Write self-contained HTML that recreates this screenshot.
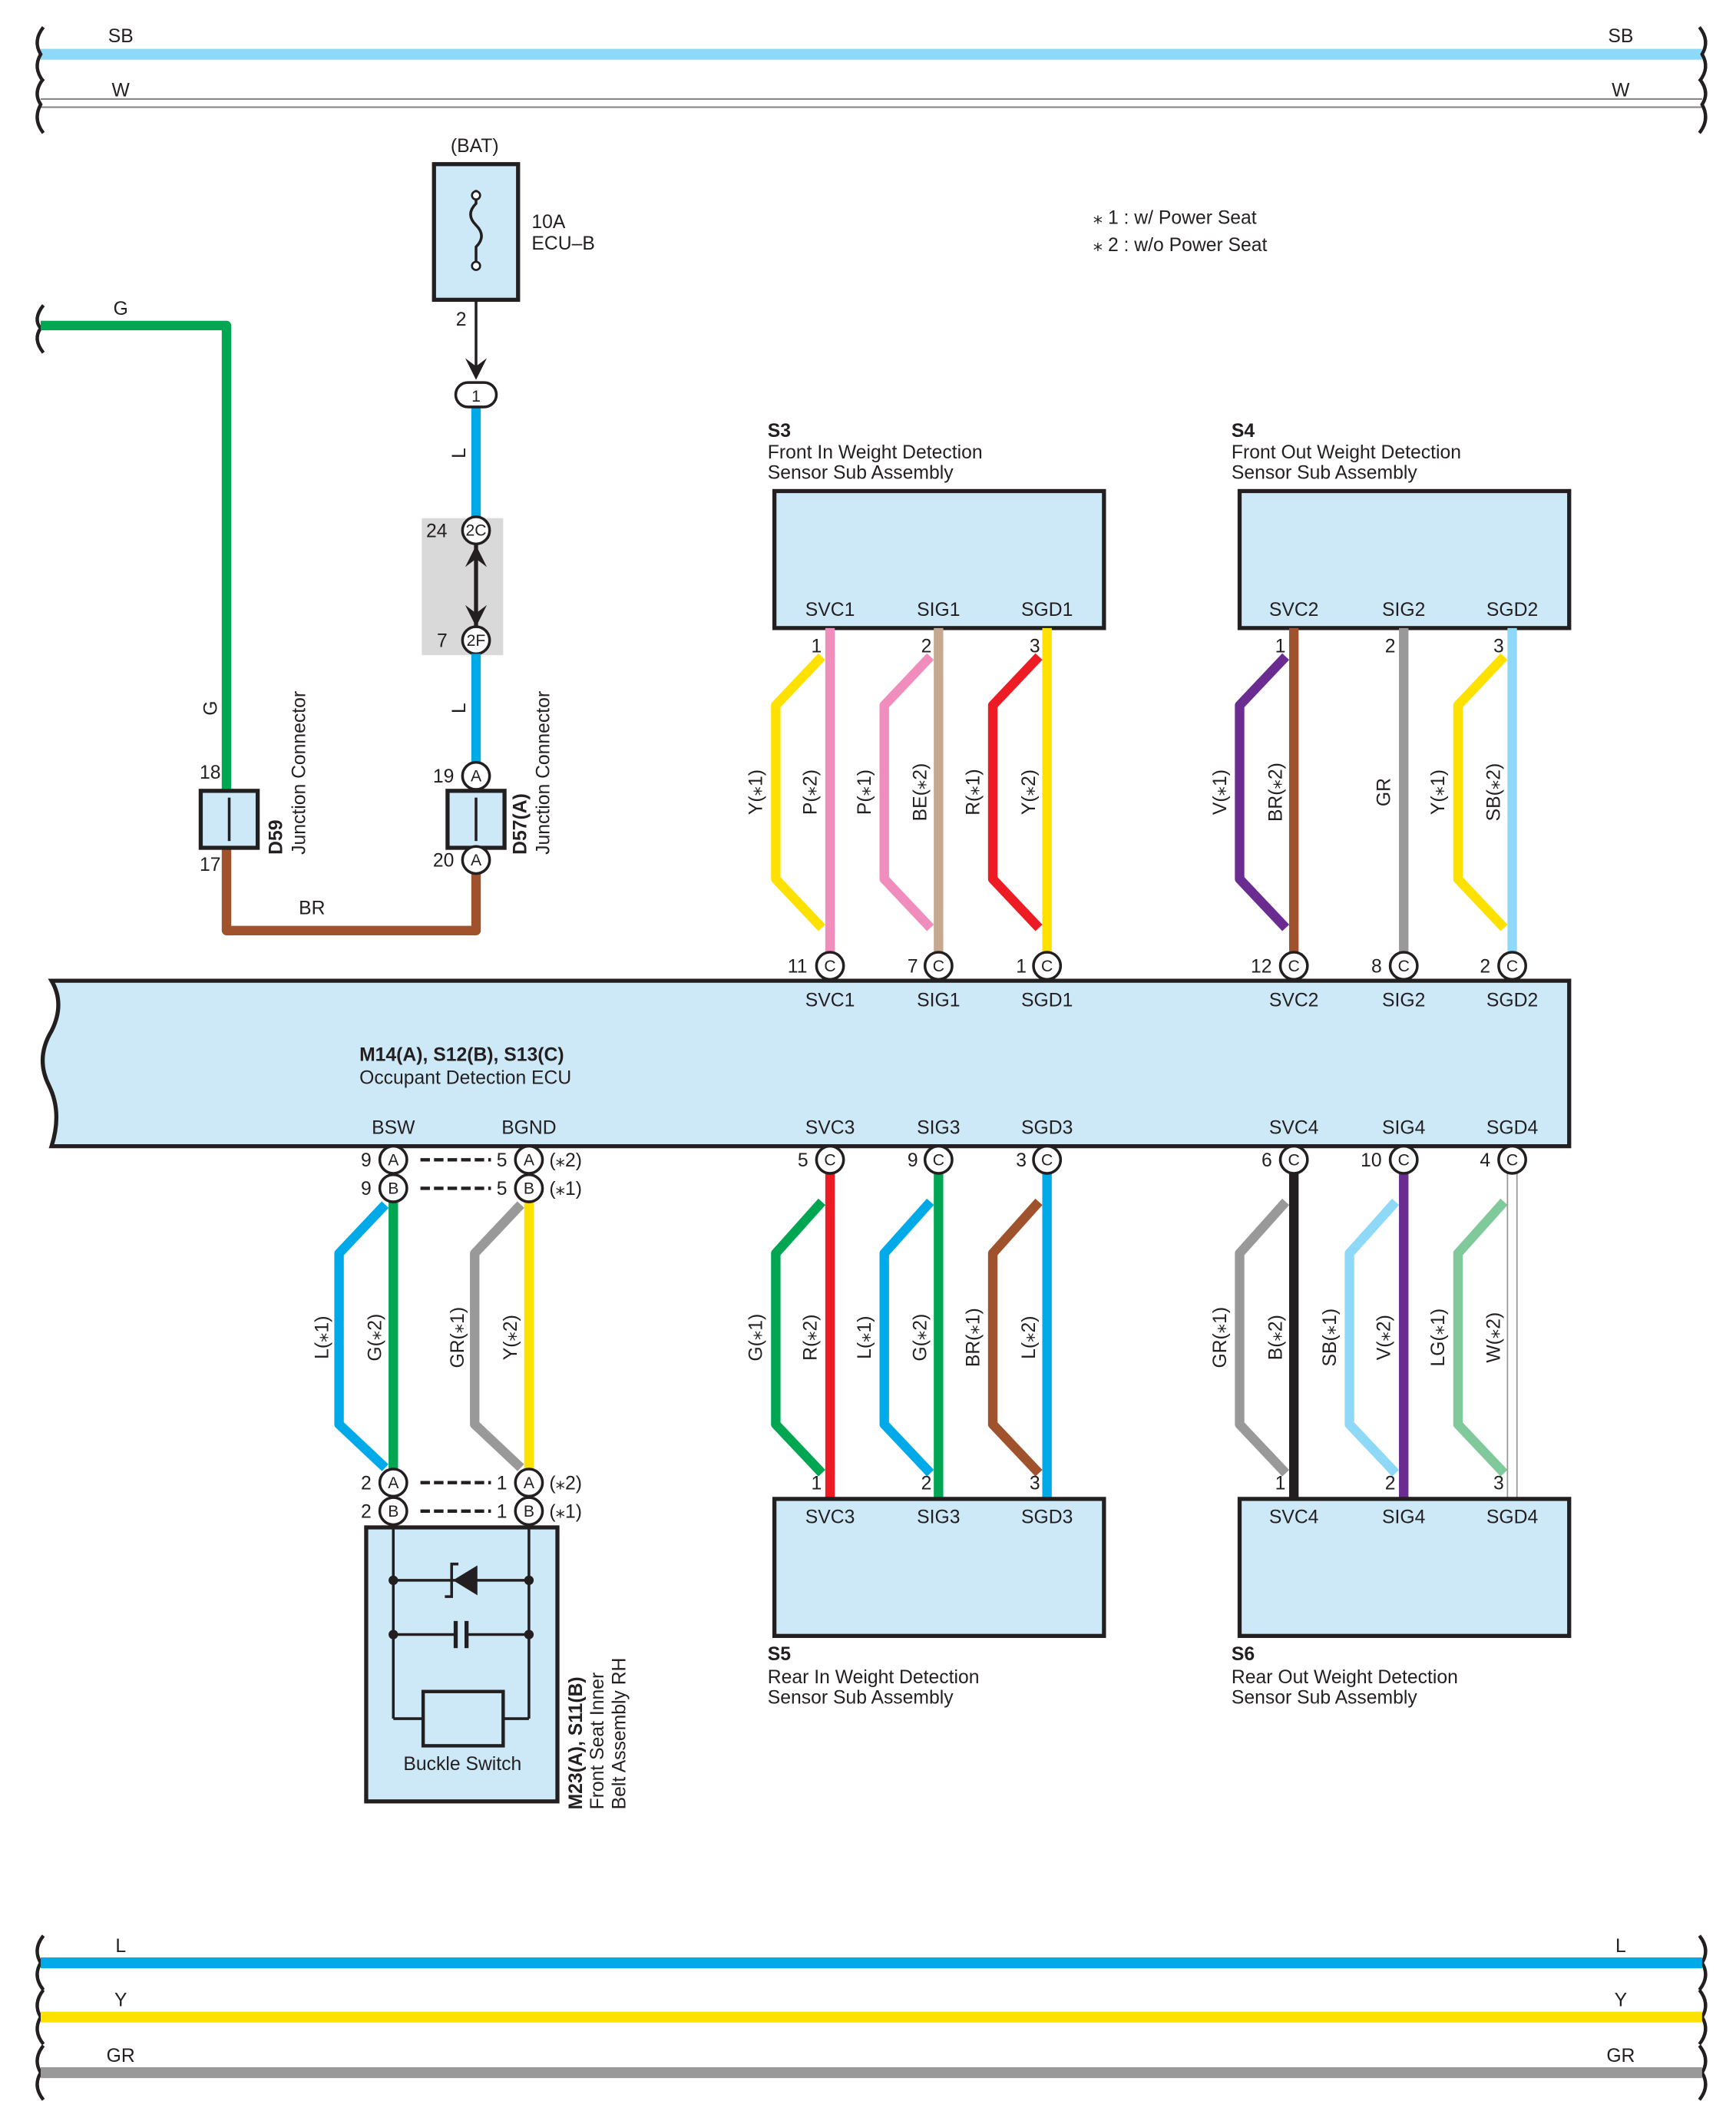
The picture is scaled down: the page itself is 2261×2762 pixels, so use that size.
<!DOCTYPE html>
<html><head><meta charset="utf-8"><style>
html,body{margin:0;padding:0;background:#fff}
svg{display:block}
text{font-family:"Liberation Sans",sans-serif;font-size:14px;fill:#231f20}
.b{font-weight:bold}
.pin{fill:#fff;stroke:#231f20;stroke-width:2}
.pl{font-size:12px;text-anchor:middle}
.box{fill:#cde9f8;stroke:#231f20;stroke-width:3}
.w{fill:none;stroke-width:7;stroke-linejoin:round}
</style></head><body>
<svg width="2261" height="2762" viewBox="0 0 1280 1563.6" xmlns="http://www.w3.org/2000/svg">
<!-- top buses -->
<line x1="30" y1="40" x2="1255" y2="40" stroke="#8ed8f8" stroke-width="8"/>
<line x1="30" y1="73" x2="1255" y2="73" stroke="#888" stroke-width="1.2"/>
<line x1="30" y1="79" x2="1255" y2="79" stroke="#888" stroke-width="1.2"/>
<text x="89" y="31" text-anchor="middle">SB</text><text x="1195" y="31" text-anchor="middle">SB</text>
<text x="89" y="71" text-anchor="middle">W</text><text x="1195" y="71" text-anchor="middle">W</text>
<g fill="none" stroke="#231f20" stroke-width="2.5">
<path d="M32,20 Q24,30 30,40 Q24,50 32,60"/><path d="M32,58 Q24,68 30,77 Q24,88 32,98"/>
<path d="M1253,20 Q1261,30 1255,40 Q1261,50 1253,60"/><path d="M1253,58 Q1261,68 1255,77 Q1261,88 1253,98"/>
<path d="M32,225 Q24,235 30,242 Q24,250 32,260"/>
<path d="M32,1427 Q24,1437 30,1447 Q24,1457 32,1467"/><path d="M32,1467 Q24,1477 30,1487 Q24,1497 32,1507"/><path d="M32,1508 Q24,1518 30,1528 Q24,1538 32,1548"/>
<path d="M1253,1427 Q1261,1437 1255,1447 Q1261,1457 1253,1467"/><path d="M1253,1467 Q1261,1477 1255,1487 Q1261,1497 1253,1507"/><path d="M1253,1508 Q1261,1518 1255,1528 Q1261,1538 1253,1548"/>
</g>
<!-- bottom buses -->
<line x1="30" y1="1447" x2="1255" y2="1447" stroke="#00a9e8" stroke-width="8"/>
<line x1="30" y1="1487" x2="1255" y2="1487" stroke="#ffe100" stroke-width="8"/>
<line x1="30" y1="1528" x2="1255" y2="1528" stroke="#999" stroke-width="8"/>
<text x="89" y="1439" text-anchor="middle">L</text><text x="1195" y="1439" text-anchor="middle">L</text>
<text x="89" y="1479" text-anchor="middle">Y</text><text x="1195" y="1479" text-anchor="middle">Y</text>
<text x="89" y="1520" text-anchor="middle">GR</text><text x="1195" y="1520" text-anchor="middle">GR</text>

<!-- legend -->
<text x="806" y="165">⁎ 1 : w/ Power Seat</text>
<text x="806" y="185">⁎ 2 : w/o Power Seat</text>

<!-- fuse -->
<text x="350" y="112" text-anchor="middle">(BAT)</text>
<rect x="320" y="121" width="62" height="100" class="box"/>
<path d="M351,140 L351,150 Q343,158 351,166 Q359,174 351,182 L351,196" fill="none" stroke="#231f20" stroke-width="2"/>
<circle cx="351" cy="144" r="3" fill="#fff" stroke="#231f20" stroke-width="1.5"/>
<circle cx="351" cy="196" r="3" fill="#fff" stroke="#231f20" stroke-width="1.5"/>
<text x="392" y="168">10A</text><text x="392" y="184">ECU–B</text>
<text x="340" y="240" text-anchor="middle">2</text>
<line x1="351" y1="221" x2="351" y2="272" stroke="#231f20" stroke-width="2"/>
<path d="M343,264 L351,280 L359,264 L351,270 Z" fill="#231f20"/>
<line x1="351" y1="300" x2="351" y2="384" stroke="#00a9e8" stroke-width="7"/>
<rect x="336" y="282" width="30" height="18" rx="9" class="pin"/><text x="351" y="296" class="pl">1</text>
<text transform="translate(343,334) rotate(-90)" text-anchor="middle">L</text>
<rect x="311" y="382" width="60" height="101" fill="#d9d9d9"/>
<line x1="351" y1="400" x2="351" y2="463" stroke="#231f20" stroke-width="3"/>
<path d="M343,418 L351,402 L359,418 L351,412Z M343,446 L351,462 L359,446 L351,452Z" fill="#231f20"/>
<circle cx="351" cy="391" r="10" class="pin"/><text x="351" y="395" class="pl">2C</text>
<circle cx="351" cy="472" r="10" class="pin"/><text x="351" y="476" class="pl">2F</text>
<text x="322" y="396" text-anchor="middle">24</text><text x="326" y="477" text-anchor="middle">7</text>
<line x1="351" y1="482" x2="351" y2="563" stroke="#00a9e8" stroke-width="7"/>
<text transform="translate(343,522) rotate(-90)" text-anchor="middle">L</text>
<!-- G wire -->
<polyline points="30,240 167,240 167,583" class="w" stroke="#00a651"/>
<text x="89" y="232" text-anchor="middle">G</text>
<text transform="translate(160,522) rotate(-90)" text-anchor="middle">G</text>
<!-- BR wire -->
<polyline points="167,625 167,686 351,686 351,644" class="w" stroke="#a0522d"/>
<text x="230" y="674" text-anchor="middle">BR</text>
<!-- D59 -->
<rect x="148" y="583" width="42" height="42" class="box"/><line x1="169" y1="588" x2="169" y2="620" stroke="#231f20" stroke-width="2"/>
<text x="155" y="574" text-anchor="middle">18</text><text x="155" y="642" text-anchor="middle">17</text>
<text transform="translate(208,630) rotate(-90)" class="b">D59</text>
<text transform="translate(225,630) rotate(-90)">Junction Connector</text>
<!-- D57 -->
<rect x="330" y="583" width="42" height="42" class="box"/><line x1="351" y1="588" x2="351" y2="620" stroke="#231f20" stroke-width="2"/>
<circle cx="351" cy="572" r="10" class="pin"/><text x="351" y="576" class="pl">A</text>
<circle cx="351" cy="634" r="10" class="pin"/><text x="351" y="638" class="pl">A</text>
<text x="327" y="577" text-anchor="middle">19</text><text x="327" y="639" text-anchor="middle">20</text>
<text transform="translate(388,630) rotate(-90)" class="b">D57(A)</text>
<text transform="translate(405,630) rotate(-90)">Junction Connector</text>

<!-- S3 / S4 boxes -->
<rect x="571" y="362" width="243" height="101" class="box"/>
<rect x="914" y="362" width="243" height="101" class="box"/>
<text x="566" y="322" class="b">S3</text><text x="566" y="338">Front In Weight Detection</text><text x="566" y="353">Sensor Sub Assembly</text>
<text x="908" y="322" class="b">S4</text><text x="908" y="338">Front Out Weight Detection</text><text x="908" y="353">Sensor Sub Assembly</text>
<g text-anchor="middle">
<text x="612" y="454">SVC1</text><text x="692" y="454">SIG1</text><text x="772" y="454">SGD1</text>
<text x="954" y="454">SVC2</text><text x="1035" y="454">SIG2</text><text x="1115" y="454">SGD2</text>
<text x="602" y="481">1</text><text x="683" y="481">2</text><text x="763" y="481">3</text>
<text x="944" y="481">1</text><text x="1025" y="481">2</text><text x="1105" y="481">3</text>
</g>
<!-- top wires -->
<g class="w" fill="none">
<polyline points="606,484 572,520 572,648 606,684" stroke="#ffe100" class="w"/>
<polyline points="686,484 652,520 652,648 686,684" stroke="#f08dbd" class="w"/>
<polyline points="766,484 732,520 732,648 766,684" stroke="#ed1c24" class="w"/>
<polyline points="948,484 914,520 914,648 948,684" stroke="#6a2c91" class="w"/>
<polyline points="1109,484 1075,520 1075,648 1109,684" stroke="#ffe100" class="w"/>
</g>
<line x1="612" y1="463" x2="612" y2="702" stroke="#f08dbd" stroke-width="7"/>
<line x1="692" y1="463" x2="692" y2="702" stroke="#c4a98e" stroke-width="7"/>
<line x1="772" y1="463" x2="772" y2="702" stroke="#ffe100" stroke-width="7"/>
<line x1="954" y1="463" x2="954" y2="702" stroke="#a0522d" stroke-width="7"/>
<line x1="1035" y1="463" x2="1035" y2="702" stroke="#999" stroke-width="7"/>
<line x1="1115" y1="463" x2="1115" y2="702" stroke="#8ed8f8" stroke-width="7"/>
<g text-anchor="middle">
<text transform="translate(562,584) rotate(-90)">Y(⁎1)</text><text transform="translate(602,584) rotate(-90)">P(⁎2)</text>
<text transform="translate(642,584) rotate(-90)">P(⁎1)</text><text transform="translate(683,584) rotate(-90)">BE(⁎2)</text>
<text transform="translate(722,584) rotate(-90)">R(⁎1)</text><text transform="translate(763,584) rotate(-90)">Y(⁎2)</text>
<text transform="translate(904,584) rotate(-90)">V(⁎1)</text><text transform="translate(945,584) rotate(-90)">BR(⁎2)</text>
<text transform="translate(1025,584) rotate(-90)">GR</text>
<text transform="translate(1065,584) rotate(-90)">Y(⁎1)</text><text transform="translate(1106,584) rotate(-90)">SB(⁎2)</text>
</g>

<!-- ECU -->
<path d="M38,723 L1157,723 L1157,845 L38,845 Q46,820 36,800 Q26,780 38,760 Q48,740 38,723 Z" class="box"/>
<text x="265" y="782" class="b">M14(A), S12(B), S13(C)</text>
<text x="265" y="799">Occupant Detection ECU</text>
<g text-anchor="middle">
<text x="612" y="742">SVC1</text><text x="692" y="742">SIG1</text><text x="772" y="742">SGD1</text>
<text x="954" y="742">SVC2</text><text x="1035" y="742">SIG2</text><text x="1115" y="742">SGD2</text>
<text x="290" y="836">BSW</text><text x="390" y="836">BGND</text>
<text x="612" y="836">SVC3</text><text x="692" y="836">SIG3</text><text x="772" y="836">SGD3</text>
<text x="954" y="836">SVC4</text><text x="1035" y="836">SIG4</text><text x="1115" y="836">SGD4</text>
<text x="588" y="717">11</text><text x="673" y="717">7</text><text x="753" y="717">1</text>
<text x="930" y="717">12</text><text x="1015" y="717">8</text><text x="1095" y="717">2</text>
<text x="592" y="860">5</text><text x="673" y="860">9</text><text x="753" y="860">3</text>
<text x="934" y="860">6</text><text x="1011" y="860">10</text><text x="1095" y="860">4</text>
<text x="270" y="860">9</text><text x="270" y="881">9</text><text x="370" y="860">5</text><text x="370" y="881">5</text>
<text x="270" y="1098">2</text><text x="270" y="1119">2</text><text x="370" y="1098">1</text><text x="370" y="1119">1</text>
</g>
<text x="405" y="860">(⁎2)</text><text x="405" y="881">(⁎1)</text>
<text x="405" y="1098">(⁎2)</text><text x="405" y="1119">(⁎1)</text>
<g stroke="#231f20" stroke-width="2.5" stroke-dasharray="7,3">
<line x1="310" y1="855" x2="362" y2="855"/><line x1="310" y1="876" x2="362" y2="876"/>
<line x1="310" y1="1093" x2="362" y2="1093"/><line x1="310" y1="1114" x2="362" y2="1114"/>
</g>

<!-- bottom wires -->
<polyline points="284,888 250,924 250,1050 284,1082" stroke="#00a9e8" class="w"/>
<polyline points="384,888 350,924 350,1050 384,1082" stroke="#999" class="w"/>
<line x1="290" y1="886" x2="290" y2="1083" stroke="#00a651" stroke-width="7"/>
<line x1="390" y1="886" x2="390" y2="1083" stroke="#ffe100" stroke-width="7"/>
<polyline points="606,886 572,924 572,1050 606,1086" stroke="#00a651" class="w"/>
<polyline points="686,886 652,924 652,1050 686,1086" stroke="#00a9e8" class="w"/>
<polyline points="766,886 732,924 732,1050 766,1086" stroke="#a0522d" class="w"/>
<polyline points="948,886 914,924 914,1050 948,1086" stroke="#999" class="w"/>
<polyline points="1029,886 995,924 995,1050 1029,1086" stroke="#8ed8f8" class="w"/>
<polyline points="1109,886 1075,924 1075,1050 1109,1086" stroke="#80c99a" class="w"/>
<line x1="612" y1="865" x2="612" y2="1105" stroke="#ed1c24" stroke-width="7"/>
<line x1="692" y1="865" x2="692" y2="1105" stroke="#00a651" stroke-width="7"/>
<line x1="772" y1="865" x2="772" y2="1105" stroke="#00a9e8" stroke-width="7"/>
<line x1="954" y1="865" x2="954" y2="1105" stroke="#231f20" stroke-width="7"/>
<line x1="1035" y1="865" x2="1035" y2="1105" stroke="#6a2c91" stroke-width="7"/>
<rect x="1111.5" y="865" width="7" height="240" fill="#fff" stroke="#999" stroke-width="1"/>
<g text-anchor="middle">
<text transform="translate(242,986) rotate(-90)">L(⁎1)</text><text transform="translate(281,986) rotate(-90)">G(⁎2)</text>
<text transform="translate(342,986) rotate(-90)">GR(⁎1)</text><text transform="translate(381,986) rotate(-90)">Y(⁎2)</text>
<text transform="translate(562,986) rotate(-90)">G(⁎1)</text><text transform="translate(602,986) rotate(-90)">R(⁎2)</text>
<text transform="translate(642,986) rotate(-90)">L(⁎1)</text><text transform="translate(683,986) rotate(-90)">G(⁎2)</text>
<text transform="translate(722,986) rotate(-90)">BR(⁎1)</text><text transform="translate(763,986) rotate(-90)">L(⁎2)</text>
<text transform="translate(904,986) rotate(-90)">GR(⁎1)</text><text transform="translate(945,986) rotate(-90)">B(⁎2)</text>
<text transform="translate(985,986) rotate(-90)">SB(⁎1)</text><text transform="translate(1025,986) rotate(-90)">V(⁎2)</text>
<text transform="translate(1065,986) rotate(-90)">LG(⁎1)</text><text transform="translate(1106,986) rotate(-90)">W(⁎2)</text>
</g>

<!-- pins ECU -->
<g>
<circle cx="612" cy="712" r="10" class="pin"/><circle cx="692" cy="712" r="10" class="pin"/><circle cx="772" cy="712" r="10" class="pin"/>
<circle cx="954" cy="712" r="10" class="pin"/><circle cx="1035" cy="712" r="10" class="pin"/><circle cx="1115" cy="712" r="10" class="pin"/>
<circle cx="612" cy="855" r="10" class="pin"/><circle cx="692" cy="855" r="10" class="pin"/><circle cx="772" cy="855" r="10" class="pin"/>
<circle cx="954" cy="855" r="10" class="pin"/><circle cx="1035" cy="855" r="10" class="pin"/><circle cx="1115" cy="855" r="10" class="pin"/>
<circle cx="290" cy="855" r="10" class="pin"/><circle cx="390" cy="855" r="10" class="pin"/>
<circle cx="290" cy="876" r="10" class="pin"/><circle cx="390" cy="876" r="10" class="pin"/>
<circle cx="290" cy="1093" r="10" class="pin"/><circle cx="390" cy="1093" r="10" class="pin"/>
<circle cx="290" cy="1114" r="10" class="pin"/><circle cx="390" cy="1114" r="10" class="pin"/>
</g>
<g class="pl">
<text x="612" y="716" class="pl">C</text><text x="692" y="716" class="pl">C</text><text x="772" y="716" class="pl">C</text>
<text x="954" y="716" class="pl">C</text><text x="1035" y="716" class="pl">C</text><text x="1115" y="716" class="pl">C</text>
<text x="612" y="859" class="pl">C</text><text x="692" y="859" class="pl">C</text><text x="772" y="859" class="pl">C</text>
<text x="954" y="859" class="pl">C</text><text x="1035" y="859" class="pl">C</text><text x="1115" y="859" class="pl">C</text>
<text x="290" y="859" class="pl">A</text><text x="390" y="859" class="pl">A</text>
<text x="290" y="880" class="pl">B</text><text x="390" y="880" class="pl">B</text>
<text x="290" y="1097" class="pl">A</text><text x="390" y="1097" class="pl">A</text>
<text x="290" y="1118" class="pl">B</text><text x="390" y="1118" class="pl">B</text>
</g>

<!-- S5 / S6 -->
<rect x="571" y="1105" width="243" height="101" class="box"/>
<rect x="914" y="1105" width="243" height="101" class="box"/>
<g text-anchor="middle">
<text x="612" y="1123">SVC3</text><text x="692" y="1123">SIG3</text><text x="772" y="1123">SGD3</text>
<text x="954" y="1123">SVC4</text><text x="1035" y="1123">SIG4</text><text x="1115" y="1123">SGD4</text>
<text x="602" y="1098">1</text><text x="683" y="1098">2</text><text x="763" y="1098">3</text>
<text x="944" y="1098">1</text><text x="1025" y="1098">2</text><text x="1105" y="1098">3</text>
</g>
<text x="566" y="1224" class="b">S5</text><text x="566" y="1241">Rear In Weight Detection</text><text x="566" y="1256">Sensor Sub Assembly</text>
<text x="908" y="1224" class="b">S6</text><text x="908" y="1241">Rear Out Weight Detection</text><text x="908" y="1256">Sensor Sub Assembly</text>

<!-- M23 -->
<rect x="270" y="1126" width="141" height="202" class="box"/>
<g stroke="#231f20" stroke-width="2" fill="none">
<line x1="290" y1="1124" x2="290" y2="1267"/><line x1="390" y1="1124" x2="390" y2="1267"/>
<line x1="290" y1="1165" x2="390" y2="1165"/>
<line x1="290" y1="1205" x2="336" y2="1205"/><line x1="344" y1="1205" x2="390" y2="1205"/>
<line x1="336" y1="1195" x2="336" y2="1215" stroke-width="3"/><line x1="344" y1="1195" x2="344" y2="1215" stroke-width="3"/>
<line x1="290" y1="1267" x2="312" y2="1267"/><line x1="371" y1="1267" x2="390" y2="1267"/>
<rect x="312" y="1247" width="59" height="40" stroke-width="2.5"/>
<path d="M328,1177 L333,1177 L333,1153 L338,1153" />
</g>
<path d="M352,1154 L352,1176 L334,1165 Z" fill="#231f20"/>
<circle cx="290" cy="1165" r="3.5" fill="#231f20"/><circle cx="390" cy="1165" r="3.5" fill="#231f20"/>
<circle cx="290" cy="1205" r="3.5" fill="#231f20"/><circle cx="390" cy="1205" r="3.5" fill="#231f20"/>
<text x="341" y="1305" text-anchor="middle">Buckle Switch</text>
<text transform="translate(429,1334) rotate(-90)" class="b">M23(A), S11(B)</text>
<text transform="translate(445,1334) rotate(-90)">Front Seat Inner</text>
<text transform="translate(461,1334) rotate(-90)">Belt Assembly RH</text>
</svg>
</body></html>
